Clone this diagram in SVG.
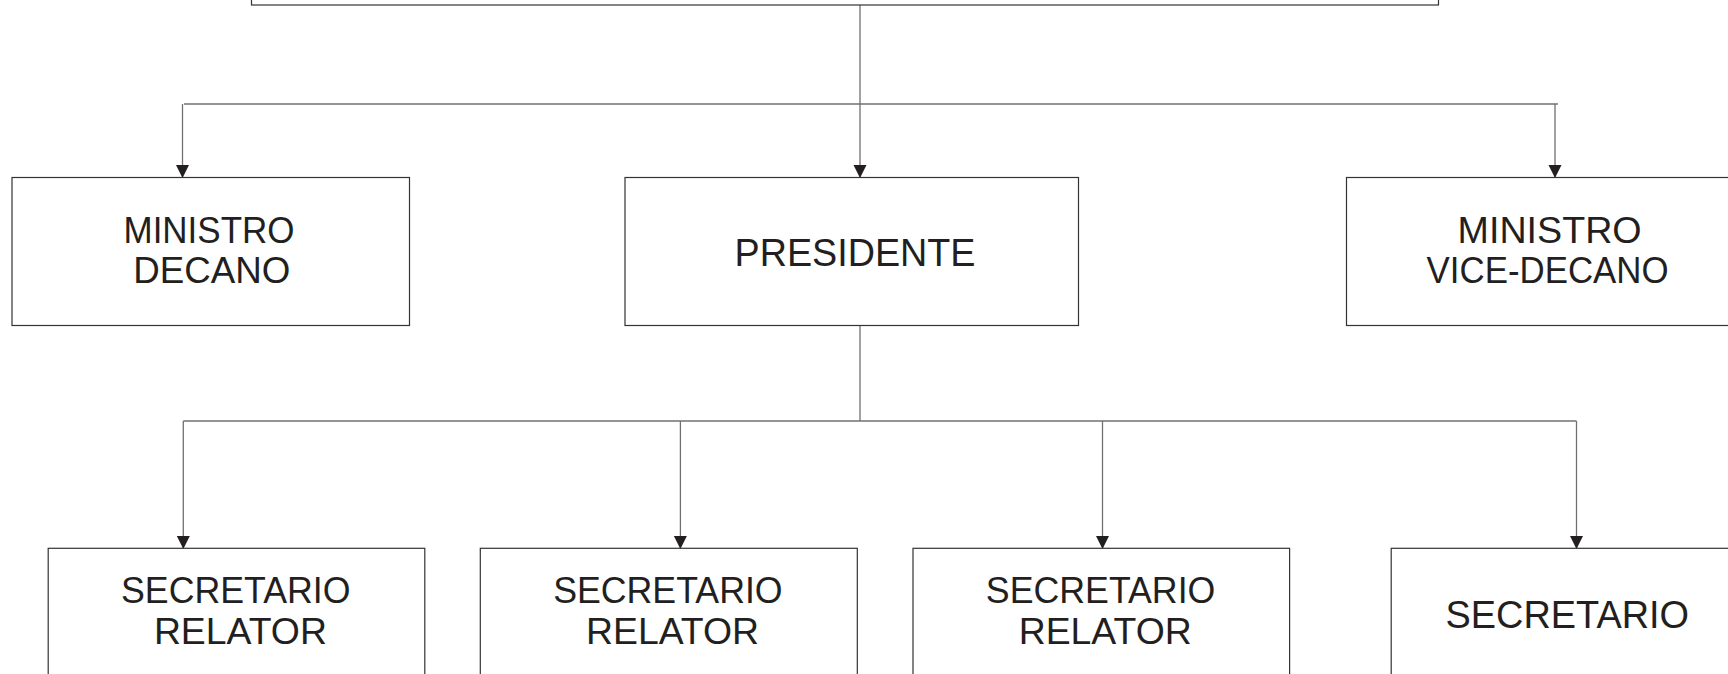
<svg xmlns="http://www.w3.org/2000/svg" width="1728" height="674" viewBox="0 0 1728 674">
<style>
.box{fill:#fff;stroke:#333;stroke-width:1.2}
.conn{fill:none;stroke:#707070;stroke-width:1.3}
.t{font-family:"Liberation Sans",Arial,sans-serif;fill:#231f20;text-anchor:middle}
</style>
<defs>
<marker id="ah" markerUnits="userSpaceOnUse" markerWidth="14" markerHeight="14" refX="13" refY="6.5" orient="auto">
<path d="M0,0 L13,6.5 L0,13 z" fill="#231f20"/>
</marker>
</defs>
<rect width="1728" height="674" fill="#fff"/>
<g id="connectors">
<line class="conn" x1="860" y1="5" x2="860" y2="178" marker-end="url(#ah)"/>
<line class="conn" x1="184" y1="104" x2="1558" y2="104"/>
<line class="conn" x1="182.5" y1="104" x2="182.5" y2="178" marker-end="url(#ah)"/>
<line class="conn" x1="1555" y1="104" x2="1555" y2="178" marker-end="url(#ah)"/>
<line class="conn" x1="860" y1="325.5" x2="860" y2="421"/>
<line class="conn" x1="183.3" y1="421" x2="1576.5" y2="421"/>
<line class="conn" x1="183.3" y1="421" x2="183.3" y2="549" marker-end="url(#ah)"/>
<line class="conn" x1="680.4" y1="421" x2="680.4" y2="549" marker-end="url(#ah)"/>
<line class="conn" x1="1102.5" y1="421" x2="1102.5" y2="549" marker-end="url(#ah)"/>
<line class="conn" x1="1576.5" y1="421" x2="1576.5" y2="549" marker-end="url(#ah)"/>
</g>
<g id="top">
<rect class="box" x="251.5" y="-50" width="1187" height="55"/>
</g>
<g id="ministro-decano">
<rect class="box" x="12" y="177.5" width="397.5" height="148"/>
<text class="t" font-size="37" x="209" y="242.7" textLength="171" lengthAdjust="spacingAndGlyphs">MINISTRO</text>
<text class="t" font-size="37" x="211.7" y="283.3" textLength="157" lengthAdjust="spacingAndGlyphs">DECANO</text>
</g>
<g id="presidente">
<rect class="box" x="625" y="177.5" width="453.5" height="148"/>
<text class="t" font-size="38" x="855" y="265.7" textLength="241" lengthAdjust="spacingAndGlyphs">PRESIDENTE</text>
</g>
<g id="ministro-vice-decano">
<rect class="box" x="1346.5" y="177.5" width="400" height="148"/>
<text class="t" font-size="37" x="1549.6" y="242.7" textLength="184" lengthAdjust="spacingAndGlyphs">MINISTRO</text>
<text class="t" font-size="37" x="1547.6" y="283.3" textLength="242" lengthAdjust="spacingAndGlyphs">VICE-DECANO</text>
</g>
<g id="secretario-relator-1">
<rect class="box" x="48.2" y="548.3" width="376.6" height="200"/>
<text class="t" font-size="36.5" x="235.8" y="602.7" textLength="229.5" lengthAdjust="spacingAndGlyphs">SECRETARIO</text>
<text class="t" font-size="36.5" x="240.4" y="644.3" textLength="173" lengthAdjust="spacingAndGlyphs">RELATOR</text>
</g>
<g id="secretario-relator-2">
<rect class="box" x="480.3" y="548.3" width="377" height="200"/>
<text class="t" font-size="36.5" x="667.9" y="602.7" textLength="229.5" lengthAdjust="spacingAndGlyphs">SECRETARIO</text>
<text class="t" font-size="36.5" x="672.5" y="644.3" textLength="173" lengthAdjust="spacingAndGlyphs">RELATOR</text>
</g>
<g id="secretario-relator-3">
<rect class="box" x="913" y="548.3" width="376.6" height="200"/>
<text class="t" font-size="36.5" x="1100.6" y="602.7" textLength="229.5" lengthAdjust="spacingAndGlyphs">SECRETARIO</text>
<text class="t" font-size="36.5" x="1105.2" y="644.3" textLength="173" lengthAdjust="spacingAndGlyphs">RELATOR</text>
</g>
<g id="secretario">
<rect class="box" x="1391.2" y="548.3" width="377" height="200"/>
<text class="t" font-size="38.5" x="1567.3" y="627.5" textLength="243.5" lengthAdjust="spacingAndGlyphs">SECRETARIO</text>
</g>
</svg>
